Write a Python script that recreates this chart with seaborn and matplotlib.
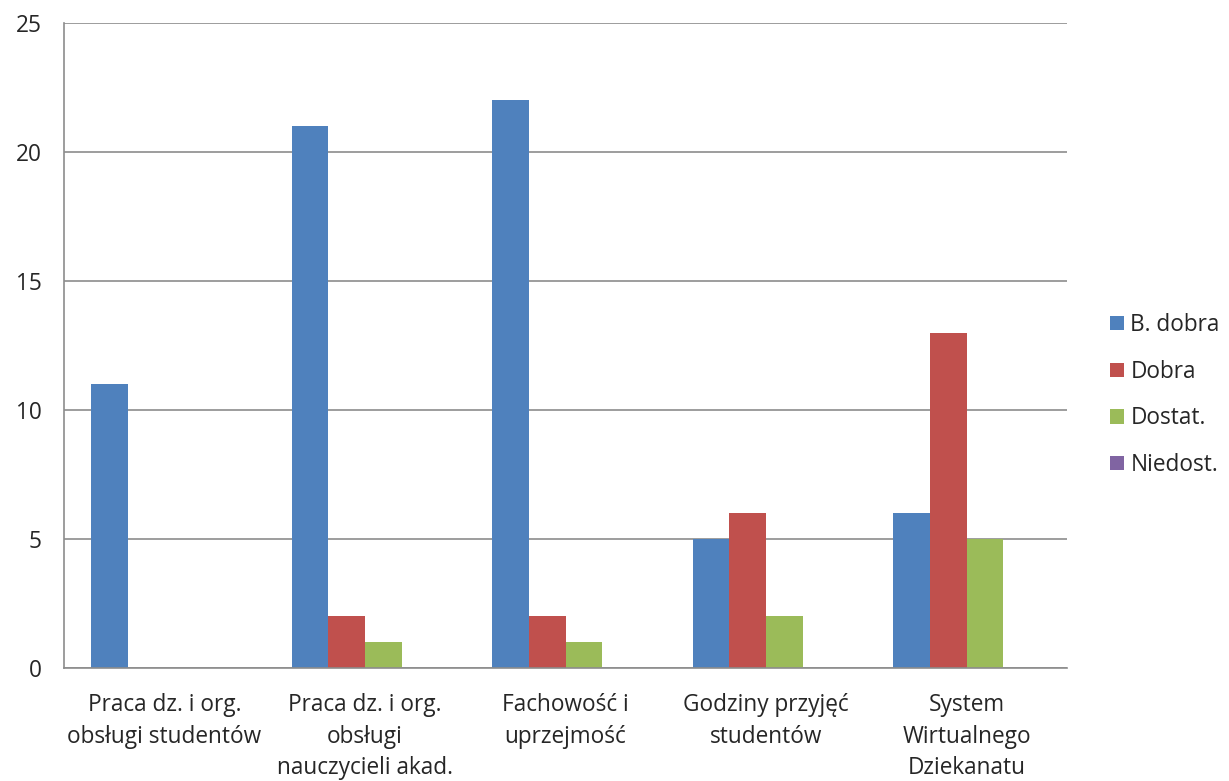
import matplotlib
matplotlib.use("Agg")
import matplotlib.pyplot as plt
import seaborn as sns
import pandas as pd
import numpy as np

categories = [
    "Praca dz. i org.\nobsługi studentów",
    "Praca dz. i org.\nobsługi\nnauczycieli akad.",
    "Fachowość i\nuprzejmość",
    "Godziny przyjęć\nstudentów",
    "System\nWirtualnego\nDziekanatu",
]
series_names = ["B. dobra", "Dobra", "Dostat.", "Niedost."]
b_dobra = [11, 21, 22, 5, 6]
dobra = [0, 2, 2, 6, 13]
dostat = [0, 1, 1, 2, 5]
niedost = [0, 0, 0, 0, 0]
colors = ["#4F81BD", "#C0504D", "#9BBB59", "#8064A2"]

df = pd.DataFrame({
    "kategoria": categories * 4,
    "ocena": np.repeat(series_names, len(categories)),
    "liczba": b_dobra + dobra + dostat + niedost,
})

sns.set_style("white")
plt.rcParams["font.family"] = ["Open Sans", "DejaVu Sans"]
FS = 16.3

fig = plt.figure(figsize=(12.29, 7.81), dpi=100)
ax = fig.add_axes([64 / 1229, 1 - 668 / 781, (1067 - 64) / 1229, (668 - 23) / 781])

sns.barplot(data=df, x="kategoria", y="liczba", hue="ocena", order=categories,
            hue_order=series_names, palette=colors, width=0.73, ax=ax,
            saturation=1, linewidth=0, errorbar=None, legend=True)

ax.set_ylim(0, 25)
ax.set_xlim(-0.5, len(categories) - 0.5)
ax.set_yticks(range(0, 26, 5))
ax.yaxis.grid(True, color="#8C8C8C", linewidth=1.2)
ax.set_axisbelow(True)
ax.set_xlabel("")
ax.set_ylabel("")

for s in ["top", "right"]:
    ax.spines[s].set_visible(False)
for s in ["left", "bottom"]:
    ax.spines[s].set_color("#8C8C8C")
    ax.spines[s].set_linewidth(1.2)

ax.set_xticks(np.arange(len(categories)))
ax.set_xticklabels(categories, fontsize=FS, linespacing=1.42)
ax.tick_params(axis="x", length=0, pad=18)
ax.set_xticks(np.arange(-0.5, len(categories)), minor=True)
ax.tick_params(axis="x", which="minor", length=8, width=1.2, color="#8C8C8C", direction="out")
ax.tick_params(axis="y", labelsize=FS, length=6, width=1.2, color="#8C8C8C", direction="out", pad=10)

handles, labels = ax.get_legend_handles_labels()
ax.legend_.remove()
fig.legend(handles, labels, loc="center left", bbox_to_anchor=(1110 / 1229, 1 - 395 / 781),
           frameon=False, fontsize=FS, handlelength=0.6, handleheight=0.6,
           handletextpad=0.3, labelspacing=1.0, borderaxespad=0, borderpad=0)

fig.savefig("out.png", dpi=100)
